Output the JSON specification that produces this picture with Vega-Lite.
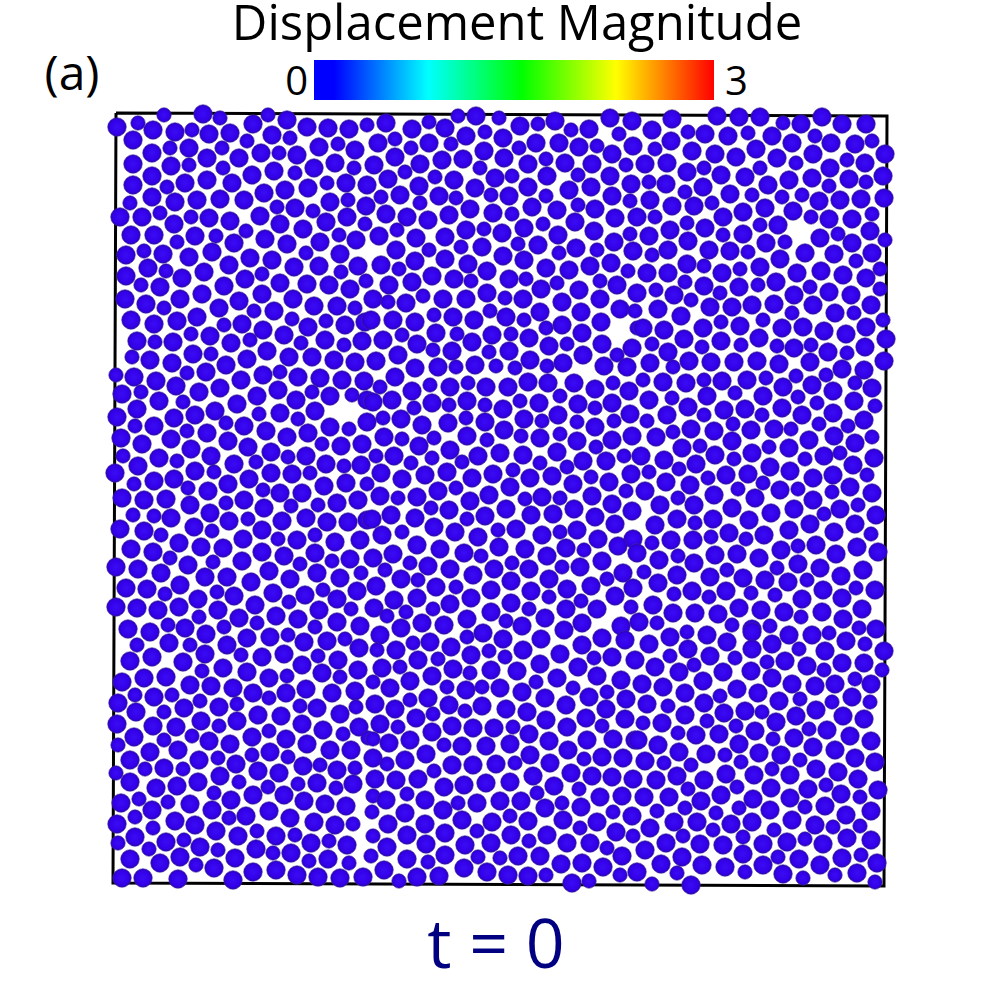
{"$schema":"https://vega.github.io/schema/vega-lite/v6.json","autosize":{"type":"fit","contains":"padding"},"width":1000,"height":1000,"padding":0,"background":"white","config":{"view":{"stroke":null}},"resolve":{"scale":{"x":"independent"}},
"datasets":{"frame":[{"x":116,"y":113,"o":0},{"x":887,"y":116,"o":1},{"x":884,"y":886,"o":2},{"x":113,"y":883,"o":3},{"x":116,"y":113,"o":4}],
"bar":[{"from":0,"to":3}],
"ticks":[{"v":0,"t":"0"},{"v":3,"t":"3"}],
"p":[
{"x":117,"y":127,"k":1},{"x":138,"y":123,"k":0},{"x":164,"y":115,"k":0},{"x":203,"y":114,"k":1},{"x":220,"y":118,"k":0},{"x":253,"y":124,"k":1},{"x":268,"y":115,"k":0},{"x":287,"y":120,"k":1},{"x":307,"y":127,"k":1},{"x":328,"y":128,"k":1},{"x":349,"y":129,"k":1},{"x":367,"y":125,"k":0},
{"x":133,"y":140,"k":1},{"x":153,"y":130,"k":1},{"x":175,"y":132,"k":1},{"x":192,"y":130,"k":0},{"x":209,"y":134,"k":1},{"x":230,"y":133,"k":1},{"x":247,"y":141,"k":0},{"x":272,"y":135,"k":1},{"x":290,"y":138,"k":0},{"x":319,"y":147,"k":1},{"x":338,"y":144,"k":0},{"x":355,"y":150,"k":1},
{"x":152,"y":153,"k":1},{"x":170,"y":148,"k":0},{"x":189,"y":148,"k":1},{"x":222,"y":148,"k":0},{"x":207,"y":158,"k":1},{"x":239,"y":158,"k":1},{"x":261,"y":153,"k":1},{"x":279,"y":153,"k":0},{"x":297,"y":155,"k":1},{"x":335,"y":163,"k":1},{"x":133,"y":164,"k":1},
{"x":171,"y":166,"k":1},{"x":189,"y":165,"k":0},{"x":223,"y":168,"k":0},{"x":252,"y":175,"k":1},{"x":274,"y":171,"k":1},{"x":295,"y":173,"k":0},{"x":314,"y":168,"k":1},{"x":354,"y":168,"k":0},{"x":152,"y":176,"k":1},{"x":133,"y":185,"k":1},{"x":167,"y":187,"k":0},{"x":185,"y":183,"k":1},{"x":207,"y":180,"k":1},{"x":232,"y":183,"k":1},{"x":264,"y":193,"k":1},{"x":285,"y":190,"k":1},{"x":308,"y":188,"k":1},{"x":327,"y":183,"k":0},{"x":346,"y":183,"k":1},{"x":367,"y":185,"k":1},
{"x":130,"y":203,"k":0},{"x":152,"y":197,"k":1},{"x":175,"y":202,"k":1},{"x":197,"y":200,"k":1},{"x":220,"y":199,"k":1},{"x":244,"y":200,"k":1},{"x":277,"y":207,"k":0},{"x":295,"y":208,"k":1},{"x":313,"y":211,"k":0},{"x":330,"y":202,"k":1},{"x":348,"y":200,"k":0},{"x":366,"y":206,"k":1},
{"x":120,"y":217,"k":1},{"x":142,"y":217,"k":1},{"x":160,"y":213,"k":0},{"x":174,"y":224,"k":1},{"x":191,"y":217,"k":0},{"x":209,"y":218,"k":1},{"x":230,"y":221,"k":1},{"x":260,"y":216,"k":1},{"x":280,"y":224,"k":1},{"x":303,"y":229,"k":1},{"x":326,"y":222,"k":1},{"x":347,"y":217,"k":1},{"x":365,"y":224,"k":0},
{"x":131,"y":235,"k":1},{"x":154,"y":235,"k":1},{"x":177,"y":242,"k":0},{"x":195,"y":236,"k":1},{"x":216,"y":236,"k":0},{"x":246,"y":231,"k":0},{"x":234,"y":243,"k":1},{"x":265,"y":239,"k":1},{"x":287,"y":244,"k":1},{"x":320,"y":242,"k":1},{"x":339,"y":235,"k":0},{"x":356,"y":240,"k":1},
{"x":126,"y":255,"k":1},{"x":144,"y":251,"k":0},{"x":163,"y":254,"k":1},{"x":189,"y":257,"k":1},{"x":212,"y":252,"k":1},{"x":250,"y":258,"k":1},{"x":272,"y":260,"k":1},{"x":306,"y":253,"k":0},{"x":340,"y":254,"k":1},{"x":229,"y":265,"k":1},{"x":294,"y":267,"k":1},{"x":319,"y":266,"k":1},{"x":358,"y":266,"k":1},
{"x":126,"y":276,"k":1},{"x":148,"y":268,"k":1},{"x":166,"y":271,"k":0},{"x":182,"y":278,"k":1},{"x":204,"y":272,"k":1},{"x":245,"y":279,"k":1},{"x":262,"y":274,"k":0},{"x":280,"y":283,"k":1},{"x":307,"y":284,"k":1},{"x":329,"y":285,"k":1},{"x":341,"y":272,"k":0},{"x":366,"y":281,"k":0},
{"x":141,"y":285,"k":0},{"x":160,"y":287,"k":1},{"x":224,"y":286,"k":1},{"x":125,"y":299,"k":1},{"x":146,"y":304,"k":1},{"x":164,"y":308,"k":0},{"x":180,"y":299,"k":1},{"x":202,"y":294,"k":1},{"x":239,"y":301,"k":1},{"x":262,"y":294,"k":1},{"x":293,"y":299,"k":1},{"x":314,"y":306,"k":1},{"x":337,"y":306,"k":1},{"x":350,"y":289,"k":1},{"x":355,"y":308,"k":0},
{"x":219,"y":308,"k":1},{"x":254,"y":311,"k":0},{"x":274,"y":311,"k":1},{"x":292,"y":319,"k":0},{"x":131,"y":320,"k":1},{"x":154,"y":324,"k":1},{"x":177,"y":321,"k":1},{"x":197,"y":317,"k":1},{"x":224,"y":325,"k":0},{"x":242,"y":324,"k":1},{"x":263,"y":330,"k":1},{"x":284,"y":335,"k":1},{"x":308,"y":327,"k":1},{"x":326,"y":321,"k":0},{"x":345,"y":325,"k":1},{"x":365,"y":322,"k":1},
{"x":137,"y":341,"k":1},{"x":155,"y":342,"k":0},{"x":173,"y":342,"k":1},{"x":191,"y":334,"k":0},{"x":210,"y":336,"k":1},{"x":231,"y":343,"k":1},{"x":250,"y":340,"k":0},{"x":301,"y":343,"k":0},{"x":325,"y":340,"k":1},{"x":344,"y":345,"k":0},{"x":362,"y":341,"k":1},
{"x":132,"y":357,"k":0},{"x":150,"y":360,"k":1},{"x":172,"y":363,"k":1},{"x":193,"y":354,"k":1},{"x":211,"y":354,"k":0},{"x":226,"y":365,"k":1},{"x":247,"y":359,"k":1},{"x":267,"y":351,"k":1},{"x":289,"y":357,"k":1},{"x":312,"y":357,"k":1},{"x":334,"y":360,"k":1},{"x":355,"y":362,"k":1},
{"x":386,"y":123,"k":1},{"x":412,"y":129,"k":1},{"x":429,"y":122,"k":0},{"x":445,"y":128,"k":1},{"x":458,"y":116,"k":0},{"x":476,"y":116,"k":1},{"x":499,"y":118,"k":0},{"x":520,"y":126,"k":1},{"x":538,"y":124,"k":0},{"x":555,"y":121,"k":1},{"x":571,"y":130,"k":0},{"x":589,"y":129,"k":1},{"x":610,"y":118,"k":1},{"x":632,"y":121,"k":1},{"x":619,"y":134,"k":0},
{"x":378,"y":143,"k":1},{"x":395,"y":139,"k":0},{"x":411,"y":148,"k":0},{"x":429,"y":143,"k":1},{"x":451,"y":144,"k":0},{"x":466,"y":136,"k":1},{"x":485,"y":132,"k":0},{"x":503,"y":138,"k":1},{"x":519,"y":148,"k":0},{"x":536,"y":143,"k":1},{"x":559,"y":143,"k":1},{"x":579,"y":147,"k":1},{"x":597,"y":146,"k":0},{"x":633,"y":146,"k":1},
{"x":395,"y":157,"k":1},{"x":374,"y":165,"k":1},{"x":420,"y":164,"k":1},{"x":442,"y":160,"k":1},{"x":463,"y":159,"k":1},{"x":484,"y":151,"k":1},{"x":504,"y":158,"k":1},{"x":528,"y":164,"k":1},{"x":546,"y":159,"k":0},{"x":565,"y":163,"k":1},{"x":592,"y":164,"k":1},{"x":612,"y":154,"k":1},{"x":626,"y":165,"k":0},
{"x":480,"y":168,"k":0},{"x":388,"y":179,"k":1},{"x":405,"y":172,"k":0},{"x":435,"y":177,"k":0},{"x":454,"y":180,"k":1},{"x":495,"y":178,"k":1},{"x":512,"y":176,"k":0},{"x":547,"y":176,"k":1},{"x":578,"y":175,"k":0},{"x":610,"y":176,"k":1},{"x":631,"y":184,"k":1},
{"x":419,"y":186,"k":1},{"x":475,"y":188,"k":1},{"x":528,"y":187,"k":1},{"x":569,"y":190,"k":1},{"x":591,"y":187,"k":1},{"x":381,"y":197,"k":0},{"x":400,"y":195,"k":1},{"x":439,"y":196,"k":1},{"x":456,"y":198,"k":0},{"x":491,"y":195,"k":0},{"x":509,"y":196,"k":1},{"x":546,"y":196,"k":0},{"x":612,"y":196,"k":1},{"x":630,"y":201,"k":0},
{"x":420,"y":203,"k":0},{"x":386,"y":214,"k":1},{"x":407,"y":217,"k":1},{"x":428,"y":220,"k":1},{"x":449,"y":215,"k":1},{"x":470,"y":209,"k":1},{"x":493,"y":213,"k":1},{"x":512,"y":214,"k":0},{"x":532,"y":207,"k":1},{"x":557,"y":210,"k":1},{"x":578,"y":205,"k":0},{"x":595,"y":209,"k":1},{"x":615,"y":218,"k":1},{"x":637,"y":217,"k":1},
{"x":397,"y":230,"k":0},{"x":575,"y":222,"k":1},{"x":543,"y":224,"k":0},{"x":466,"y":230,"k":1},{"x":484,"y":229,"k":0},{"x":502,"y":233,"k":1},{"x":524,"y":228,"k":1},{"x":379,"y":236,"k":1},{"x":416,"y":238,"k":1},{"x":445,"y":237,"k":1},{"x":558,"y":235,"k":1},{"x":594,"y":231,"k":1},{"x":630,"y":234,"k":0},
{"x":518,"y":244,"k":0},{"x":461,"y":247,"k":0},{"x":482,"y":247,"k":1},{"x":538,"y":245,"k":1},{"x":576,"y":248,"k":1},{"x":597,"y":250,"k":0},{"x":614,"y":242,"k":1},{"x":396,"y":250,"k":1},{"x":429,"y":250,"k":0},{"x":633,"y":251,"k":1},
{"x":503,"y":256,"k":1},{"x":559,"y":253,"k":0},{"x":381,"y":265,"k":1},{"x":415,"y":261,"k":1},{"x":445,"y":259,"k":1},{"x":468,"y":264,"k":1},{"x":524,"y":260,"k":1},{"x":399,"y":269,"k":0},{"x":546,"y":268,"k":1},{"x":569,"y":270,"k":1},{"x":590,"y":266,"k":1},{"x":611,"y":263,"k":1},{"x":628,"y":271,"k":0},
{"x":432,"y":276,"k":1},{"x":487,"y":271,"k":1},{"x":412,"y":282,"k":1},{"x":454,"y":279,"k":1},{"x":471,"y":281,"k":0},{"x":509,"y":279,"k":1},{"x":526,"y":279,"k":0},{"x":600,"y":281,"k":0},{"x":389,"y":285,"k":1},{"x":557,"y":283,"k":0},{"x":579,"y":290,"k":1},{"x":617,"y":285,"k":1},{"x":541,"y":289,"k":1},{"x":637,"y":293,"k":1},
{"x":423,"y":296,"k":0},{"x":487,"y":293,"k":1},{"x":443,"y":299,"k":1},{"x":466,"y":299,"k":1},{"x":505,"y":298,"k":0},{"x":523,"y":299,"k":1},{"x":373,"y":299,"k":1},{"x":388,"y":302,"k":0},{"x":406,"y":303,"k":1},{"x":562,"y":302,"k":1},{"x":600,"y":299,"k":1},{"x":620,"y":309,"k":1},
{"x":434,"y":315,"k":0},{"x":490,"y":311,"k":0},{"x":453,"y":317,"k":1},{"x":474,"y":320,"k":1},{"x":506,"y":317,"k":1},{"x":524,"y":320,"k":0},{"x":540,"y":312,"k":1},{"x":581,"y":312,"k":1},{"x":635,"y":311,"k":0},{"x":393,"y":320,"k":1},{"x":415,"y":322,"k":1},{"x":601,"y":322,"k":1},{"x":562,"y":325,"k":1},{"x":371,"y":320,"k":1},
{"x":546,"y":328,"k":0},{"x":436,"y":333,"k":1},{"x":457,"y":334,"k":0},{"x":492,"y":335,"k":1},{"x":511,"y":334,"k":0},{"x":529,"y":338,"k":1},{"x":582,"y":333,"k":1},{"x":402,"y":335,"k":0},{"x":383,"y":340,"k":1},{"x":417,"y":344,"k":1},{"x":472,"y":342,"k":1},{"x":637,"y":328,"k":0},
{"x":567,"y":344,"k":0},{"x":549,"y":346,"k":1},{"x":602,"y":344,"k":1},{"x":433,"y":350,"k":0},{"x":452,"y":351,"k":1},{"x":489,"y":352,"k":0},{"x":509,"y":351,"k":1},{"x":617,"y":355,"k":0},{"x":632,"y":348,"k":1},{"x":583,"y":355,"k":1},{"x":398,"y":355,"k":1},
{"x":376,"y":361,"k":1},{"x":415,"y":368,"k":1},{"x":438,"y":367,"k":1},{"x":456,"y":367,"k":0},{"x":475,"y":365,"k":1},{"x":496,"y":366,"k":0},{"x":515,"y":368,"k":0},{"x":530,"y":360,"k":1},{"x":547,"y":366,"k":0},{"x":563,"y":363,"k":1},{"x":604,"y":366,"k":1},{"x":627,"y":367,"k":1},
{"x":672,"y":119,"k":1},{"x":717,"y":116,"k":1},{"x":739,"y":117,"k":1},{"x":760,"y":117,"k":1},{"x":783,"y":123,"k":0},{"x":801,"y":124,"k":1},{"x":822,"y":117,"k":1},{"x":842,"y":124,"k":1},{"x":866,"y":124,"k":1},
{"x":652,"y":130,"k":1},{"x":688,"y":132,"k":0},{"x":705,"y":134,"k":1},{"x":728,"y":136,"k":1},{"x":748,"y":133,"k":0},{"x":772,"y":136,"k":1},{"x":792,"y":143,"k":1},{"x":815,"y":136,"k":0},{"x":831,"y":143,"k":1},{"x":855,"y":144,"k":1},{"x":872,"y":141,"k":0},
{"x":671,"y":141,"k":1},{"x":655,"y":149,"k":0},{"x":692,"y":151,"k":1},{"x":715,"y":154,"k":1},{"x":736,"y":157,"k":1},{"x":756,"y":149,"k":1},{"x":777,"y":158,"k":1},{"x":813,"y":154,"k":1},{"x":847,"y":160,"k":0},{"x":865,"y":163,"k":1},{"x":885,"y":154,"k":1},
{"x":645,"y":164,"k":1},{"x":667,"y":163,"k":1},{"x":796,"y":163,"k":0},{"x":830,"y":168,"k":1},{"x":687,"y":172,"k":1},{"x":704,"y":168,"k":0},{"x":721,"y":175,"k":1},{"x":760,"y":168,"k":0},{"x":745,"y":177,"k":1},{"x":789,"y":180,"k":1},{"x":812,"y":178,"k":1},{"x":849,"y":179,"k":1},{"x":866,"y":182,"k":0},{"x":883,"y":176,"k":1},
{"x":649,"y":182,"k":0},{"x":666,"y":184,"k":1},{"x":768,"y":185,"k":1},{"x":829,"y":186,"k":0},{"x":703,"y":187,"k":1},{"x":685,"y":192,"k":0},{"x":730,"y":194,"k":1},{"x":752,"y":195,"k":0},{"x":782,"y":197,"k":0},{"x":802,"y":195,"k":0},{"x":819,"y":201,"k":1},{"x":840,"y":200,"k":1},{"x":861,"y":199,"k":1},{"x":884,"y":198,"k":1},
{"x":650,"y":200,"k":1},{"x":672,"y":206,"k":1},{"x":694,"y":206,"k":1},{"x":712,"y":203,"k":0},{"x":743,"y":212,"k":1},{"x":765,"y":208,"k":1},{"x":793,"y":211,"k":1},{"x":811,"y":217,"k":0},{"x":829,"y":219,"k":1},{"x":852,"y":219,"k":1},{"x":872,"y":214,"k":0},
{"x":655,"y":217,"k":0},{"x":723,"y":217,"k":1},{"x":687,"y":223,"k":0},{"x":705,"y":228,"k":1},{"x":760,"y":225,"k":0},{"x":778,"y":225,"k":1},{"x":670,"y":230,"k":1},{"x":870,"y":231,"k":1},{"x":649,"y":236,"k":1},{"x":723,"y":235,"k":0},{"x":743,"y":234,"k":1},{"x":820,"y":238,"k":1},{"x":838,"y":234,"k":0},{"x":885,"y":240,"k":0},
{"x":688,"y":241,"k":1},{"x":766,"y":243,"k":1},{"x":785,"y":242,"k":0},{"x":668,"y":250,"k":1},{"x":709,"y":250,"k":1},{"x":730,"y":251,"k":1},{"x":748,"y":252,"k":0},{"x":852,"y":243,"k":1},{"x":805,"y":253,"k":1},{"x":834,"y":254,"k":1},{"x":652,"y":255,"k":0},{"x":872,"y":253,"k":1},
{"x":780,"y":259,"k":1},{"x":687,"y":264,"k":1},{"x":704,"y":266,"k":0},{"x":856,"y":261,"k":0},{"x":722,"y":273,"k":1},{"x":740,"y":269,"k":0},{"x":760,"y":267,"k":1},{"x":647,"y":273,"k":1},{"x":668,"y":273,"k":1},{"x":797,"y":273,"k":1},{"x":821,"y":271,"k":1},{"x":843,"y":275,"k":1},{"x":880,"y":269,"k":0},{"x":866,"y":278,"k":1},
{"x":685,"y":282,"k":0},{"x":704,"y":286,"k":1},{"x":776,"y":282,"k":1},{"x":739,"y":287,"k":1},{"x":758,"y":285,"k":0},{"x":810,"y":287,"k":0},{"x":880,"y":289,"k":0},{"x":720,"y":293,"k":0},{"x":656,"y":290,"k":0},{"x":674,"y":295,"k":1},{"x":829,"y":292,"k":1},{"x":851,"y":295,"k":1},{"x":794,"y":295,"k":1},
{"x":691,"y":300,"k":0},{"x":658,"y":309,"k":1},{"x":710,"y":307,"k":1},{"x":732,"y":307,"k":1},{"x":752,"y":305,"k":1},{"x":774,"y":304,"k":1},{"x":813,"y":305,"k":1},{"x":871,"y":305,"k":1},{"x":792,"y":313,"k":0},{"x":835,"y":313,"k":1},{"x":854,"y":313,"k":0},{"x":681,"y":316,"k":1},
{"x":763,"y":320,"k":0},{"x":883,"y":320,"k":0},{"x":721,"y":322,"k":0},{"x":703,"y":328,"k":1},{"x":740,"y":326,"k":1},{"x":782,"y":328,"k":1},{"x":803,"y":327,"k":1},{"x":824,"y":331,"k":1},{"x":846,"y":334,"k":1},{"x":866,"y":327,"k":1},{"x":664,"y":330,"k":1},{"x":643,"y":328,"k":1},
{"x":684,"y":339,"k":1},{"x":721,"y":341,"k":1},{"x":759,"y":338,"k":1},{"x":886,"y":339,"k":1},{"x":652,"y":344,"k":0},{"x":702,"y":347,"k":0},{"x":741,"y":345,"k":0},{"x":777,"y":346,"k":0},{"x":794,"y":348,"k":1},{"x":811,"y":345,"k":0},{"x":828,"y":352,"k":1},{"x":847,"y":353,"k":0},{"x":865,"y":347,"k":1},{"x":668,"y":352,"k":1},
{"x":689,"y":361,"k":1},{"x":711,"y":362,"k":1},{"x":734,"y":362,"k":1},{"x":757,"y":361,"k":1},{"x":779,"y":364,"k":1},{"x":884,"y":361,"k":1},{"x":650,"y":363,"k":1},{"x":673,"y":367,"k":0},{"x":810,"y":362,"k":1},{"x":842,"y":369,"k":1},{"x":864,"y":370,"k":1},
{"x":116,"y":375,"k":0},{"x":134,"y":377,"k":1},{"x":156,"y":381,"k":1},{"x":187,"y":373,"k":0},{"x":206,"y":372,"k":1},{"x":241,"y":380,"k":1},{"x":263,"y":375,"k":1},{"x":280,"y":372,"k":0},{"x":298,"y":377,"k":1},{"x":320,"y":378,"k":1},{"x":342,"y":380,"k":1},{"x":364,"y":381,"k":1},
{"x":122,"y":394,"k":1},{"x":141,"y":392,"k":0},{"x":176,"y":386,"k":1},{"x":199,"y":392,"k":1},{"x":220,"y":388,"k":1},{"x":159,"y":401,"k":1},{"x":183,"y":402,"k":0},{"x":257,"y":396,"k":1},{"x":278,"y":390,"k":1},{"x":312,"y":392,"k":0},{"x":296,"y":400,"k":1},{"x":330,"y":396,"k":1},{"x":352,"y":395,"k":0},{"x":367,"y":400,"k":1},
{"x":137,"y":409,"k":1},{"x":117,"y":417,"k":1},{"x":174,"y":418,"k":1},{"x":195,"y":415,"k":1},{"x":215,"y":411,"k":1},{"x":237,"y":404,"k":1},{"x":259,"y":414,"k":0},{"x":280,"y":413,"k":1},{"x":315,"y":411,"k":1},{"x":298,"y":419,"k":0},{"x":367,"y":422,"k":1},
{"x":135,"y":426,"k":0},{"x":154,"y":426,"k":1},{"x":226,"y":423,"k":0},{"x":244,"y":426,"k":1},{"x":330,"y":427,"k":1},{"x":349,"y":429,"k":0},{"x":187,"y":431,"k":0},{"x":207,"y":433,"k":1},{"x":266,"y":431,"k":1},{"x":308,"y":433,"k":1},{"x":121,"y":438,"k":1},{"x":171,"y":439,"k":1},{"x":228,"y":441,"k":1},{"x":287,"y":437,"k":1},
{"x":142,"y":444,"k":1},{"x":322,"y":444,"k":0},{"x":248,"y":447,"k":1},{"x":341,"y":446,"k":1},{"x":362,"y":444,"k":1},{"x":191,"y":449,"k":1},{"x":271,"y":452,"k":1},{"x":123,"y":456,"k":0},{"x":159,"y":458,"k":1},{"x":211,"y":456,"k":1},{"x":288,"y":457,"k":0},{"x":306,"y":456,"k":1},{"x":177,"y":461,"k":0},{"x":234,"y":464,"k":1},{"x":256,"y":462,"k":0},{"x":326,"y":464,"k":1},{"x":344,"y":466,"k":0},{"x":361,"y":465,"k":1},
{"x":138,"y":466,"k":1},{"x":115,"y":473,"k":1},{"x":195,"y":471,"k":1},{"x":214,"y":472,"k":0},{"x":271,"y":473,"k":1},{"x":292,"y":474,"k":1},{"x":310,"y":473,"k":0},{"x":174,"y":479,"k":1},{"x":249,"y":479,"k":1},{"x":134,"y":484,"k":0},{"x":154,"y":481,"k":1},{"x":188,"y":488,"k":0},{"x":228,"y":484,"k":1},{"x":324,"y":486,"k":1},{"x":346,"y":483,"k":1},{"x":367,"y":484,"k":0},
{"x":208,"y":491,"k":1},{"x":263,"y":490,"k":0},{"x":280,"y":493,"k":1},{"x":302,"y":493,"k":1},{"x":122,"y":498,"k":1},{"x":144,"y":500,"k":1},{"x":166,"y":499,"k":1},{"x":244,"y":500,"k":1},{"x":226,"y":503,"k":0},{"x":190,"y":505,"k":1},{"x":264,"y":508,"k":1},{"x":291,"y":506,"k":0},{"x":318,"y":505,"k":0},{"x":337,"y":503,"k":1},{"x":358,"y":500,"k":1},
{"x":210,"y":513,"k":1},{"x":133,"y":515,"k":0},{"x":154,"y":516,"k":0},{"x":171,"y":518,"k":1},{"x":229,"y":521,"k":1},{"x":248,"y":519,"k":0},{"x":306,"y":518,"k":1},{"x":282,"y":521,"k":1},{"x":327,"y":522,"k":1},{"x":348,"y":522,"k":1},{"x":367,"y":520,"k":1},
{"x":120,"y":529,"k":1},{"x":144,"y":531,"k":1},{"x":194,"y":527,"k":1},{"x":212,"y":531,"k":0},{"x":262,"y":530,"k":1},{"x":161,"y":535,"k":0},{"x":315,"y":535,"k":0},{"x":243,"y":539,"k":1},{"x":179,"y":543,"k":1},{"x":278,"y":539,"k":0},{"x":297,"y":540,"k":1},{"x":335,"y":542,"k":1},{"x":360,"y":540,"k":1},
{"x":131,"y":549,"k":1},{"x":153,"y":552,"k":1},{"x":201,"y":547,"k":1},{"x":223,"y":548,"k":1},{"x":262,"y":552,"k":1},{"x":284,"y":556,"k":1},{"x":315,"y":553,"k":1},{"x":170,"y":558,"k":0},{"x":350,"y":559,"k":1},{"x":332,"y":561,"k":0},{"x":213,"y":562,"k":0},{"x":242,"y":561,"k":1},{"x":300,"y":564,"k":0},
{"x":116,"y":567,"k":1},{"x":138,"y":569,"k":1},{"x":188,"y":565,"k":1},{"x":161,"y":573,"k":1},{"x":269,"y":571,"k":1},{"x":317,"y":573,"k":1},{"x":361,"y":573,"k":0},{"x":205,"y":577,"k":1},{"x":227,"y":577,"k":1},{"x":290,"y":579,"k":1},{"x":340,"y":578,"k":1},{"x":251,"y":582,"k":1},
{"x":126,"y":588,"k":1},{"x":147,"y":589,"k":1},{"x":180,"y":585,"k":1},{"x":165,"y":594,"k":0},{"x":217,"y":592,"k":0},{"x":234,"y":596,"k":1},{"x":273,"y":593,"k":1},{"x":305,"y":595,"k":1},{"x":323,"y":590,"k":0},{"x":357,"y":591,"k":1},{"x":337,"y":599,"k":1},{"x":289,"y":602,"k":0},
{"x":198,"y":599,"k":1},{"x":179,"y":607,"k":1},{"x":116,"y":607,"k":1},{"x":137,"y":608,"k":1},{"x":158,"y":610,"k":1},{"x":218,"y":610,"k":1},{"x":255,"y":605,"k":1},{"x":319,"y":610,"k":1},{"x":351,"y":609,"k":0},{"x":199,"y":617,"k":0},{"x":239,"y":618,"k":1},{"x":276,"y":616,"k":1},{"x":298,"y":619,"k":1},{"x":257,"y":623,"k":0},{"x":168,"y":625,"k":0},{"x":128,"y":629,"k":1},{"x":185,"y":628,"k":1},{"x":224,"y":627,"k":0},{"x":315,"y":627,"k":0},{"x":337,"y":622,"k":1},{"x":360,"y":626,"k":1},
{"x":395,"y":377,"k":1},{"x":380,"y":387,"k":0},{"x":412,"y":391,"k":1},{"x":430,"y":385,"k":0},{"x":450,"y":387,"k":1},{"x":468,"y":383,"k":0},{"x":486,"y":387,"k":1},{"x":508,"y":387,"k":1},{"x":528,"y":382,"k":1},{"x":548,"y":383,"k":1},{"x":574,"y":383,"k":1},{"x":595,"y":389,"k":1},{"x":613,"y":383,"k":0},{"x":629,"y":391,"k":1},
{"x":392,"y":400,"k":1},{"x":560,"y":396,"k":0},{"x":373,"y":402,"k":1},{"x":432,"y":403,"k":1},{"x":449,"y":405,"k":0},{"x":467,"y":401,"k":1},{"x":485,"y":405,"k":0},{"x":503,"y":409,"k":1},{"x":520,"y":401,"k":0},{"x":539,"y":403,"k":1},{"x":578,"y":404,"k":1},{"x":595,"y":408,"k":0},{"x":612,"y":403,"k":1},{"x":414,"y":408,"k":0},
{"x":383,"y":418,"k":0},{"x":401,"y":419,"k":1},{"x":422,"y":425,"k":1},{"x":448,"y":423,"k":1},{"x":466,"y":418,"k":0},{"x":485,"y":422,"k":1},{"x":524,"y":419,"k":1},{"x":542,"y":421,"k":0},{"x":558,"y":415,"k":1},{"x":577,"y":422,"k":0},{"x":595,"y":427,"k":1},{"x":614,"y":421,"k":0},{"x":630,"y":414,"k":1},
{"x":504,"y":430,"k":1},{"x":384,"y":437,"k":1},{"x":402,"y":439,"k":0},{"x":434,"y":438,"k":0},{"x":467,"y":436,"k":1},{"x":487,"y":440,"k":0},{"x":521,"y":436,"k":0},{"x":540,"y":438,"k":1},{"x":560,"y":434,"k":0},{"x":577,"y":441,"k":1},{"x":612,"y":440,"k":1},{"x":632,"y":436,"k":1},
{"x":419,"y":446,"k":1},{"x":450,"y":450,"k":1},{"x":500,"y":453,"k":1},{"x":523,"y":455,"k":1},{"x":557,"y":452,"k":1},{"x":596,"y":447,"k":0},{"x":376,"y":456,"k":0},{"x":394,"y":456,"k":1},{"x":432,"y":458,"k":0},{"x":478,"y":456,"k":1},{"x":540,"y":463,"k":0},{"x":624,"y":456,"k":0},{"x":583,"y":461,"k":1},{"x":606,"y":461,"k":1},{"x":411,"y":463,"k":0},{"x":462,"y":462,"k":0},
{"x":567,"y":467,"k":0},{"x":513,"y":470,"k":0},{"x":381,"y":473,"k":1},{"x":447,"y":472,"k":1},{"x":402,"y":479,"k":1},{"x":425,"y":475,"k":1},{"x":472,"y":478,"k":1},{"x":493,"y":474,"k":1},{"x":530,"y":478,"k":1},{"x":552,"y":476,"k":1},{"x":591,"y":477,"k":0},{"x":573,"y":484,"k":1},{"x":609,"y":482,"k":1},{"x":631,"y":474,"k":1},
{"x":510,"y":487,"k":1},{"x":438,"y":491,"k":1},{"x":456,"y":488,"k":0},{"x":380,"y":496,"k":1},{"x":398,"y":498,"k":0},{"x":417,"y":497,"k":1},{"x":489,"y":495,"k":1},{"x":525,"y":499,"k":0},{"x":542,"y":497,"k":1},{"x":560,"y":498,"k":0},{"x":592,"y":496,"k":1},{"x":626,"y":491,"k":0},{"x":470,"y":501,"k":1},
{"x":612,"y":504,"k":1},{"x":431,"y":508,"k":0},{"x":574,"y":509,"k":1},{"x":506,"y":509,"k":1},{"x":632,"y":511,"k":1},{"x":449,"y":510,"k":1},{"x":391,"y":515,"k":1},{"x":415,"y":518,"k":1},{"x":531,"y":515,"k":1},{"x":553,"y":514,"k":1},{"x":595,"y":517,"k":1},{"x":467,"y":519,"k":0},{"x":485,"y":516,"k":1},{"x":372,"y":519,"k":1},
{"x":615,"y":524,"k":1},{"x":516,"y":529,"k":1},{"x":434,"y":527,"k":1},{"x":577,"y":530,"k":1},{"x":498,"y":530,"k":0},{"x":455,"y":532,"k":1},{"x":382,"y":535,"k":1},{"x":402,"y":532,"k":0},{"x":542,"y":535,"k":1},{"x":560,"y":532,"k":0},{"x":478,"y":537,"k":1},{"x":598,"y":539,"k":1},{"x":633,"y":539,"k":1},
{"x":417,"y":545,"k":1},{"x":440,"y":549,"k":1},{"x":499,"y":547,"k":1},{"x":525,"y":549,"k":1},{"x":566,"y":548,"k":1},{"x":618,"y":546,"k":1},{"x":584,"y":550,"k":0},{"x":464,"y":553,"k":1},{"x":481,"y":556,"k":0},{"x":393,"y":554,"k":1},{"x":547,"y":556,"k":1},{"x":373,"y":558,"k":1},
{"x":410,"y":563,"k":0},{"x":602,"y":561,"k":1},{"x":428,"y":566,"k":1},{"x":512,"y":563,"k":0},{"x":562,"y":567,"k":0},{"x":494,"y":569,"k":1},{"x":385,"y":570,"k":0},{"x":450,"y":569,"k":1},{"x":529,"y":569,"k":1},{"x":580,"y":567,"k":1},{"x":473,"y":575,"k":1},{"x":623,"y":573,"k":1},{"x":401,"y":579,"k":1},{"x":549,"y":579,"k":1},{"x":418,"y":580,"k":0},{"x":511,"y":581,"k":1},{"x":607,"y":579,"k":0},
{"x":376,"y":586,"k":1},{"x":436,"y":587,"k":1},{"x":456,"y":587,"k":0},{"x":491,"y":590,"k":1},{"x":531,"y":591,"k":1},{"x":567,"y":589,"k":1},{"x":591,"y":586,"k":1},{"x":615,"y":596,"k":1},{"x":633,"y":588,"k":1},
{"x":394,"y":600,"k":1},{"x":417,"y":598,"k":1},{"x":471,"y":598,"k":1},{"x":450,"y":604,"k":1},{"x":549,"y":597,"k":0},{"x":511,"y":603,"k":1},{"x":581,"y":601,"k":0},{"x":374,"y":608,"k":1},{"x":491,"y":612,"k":1},{"x":597,"y":609,"k":1},{"x":631,"y":607,"k":0},{"x":529,"y":609,"k":0},{"x":566,"y":609,"k":1},{"x":406,"y":612,"k":0},{"x":433,"y":609,"k":0},
{"x":387,"y":616,"k":0},{"x":467,"y":619,"k":1},{"x":422,"y":623,"k":1},{"x":545,"y":618,"k":1},{"x":506,"y":621,"k":0},{"x":444,"y":625,"k":1},{"x":582,"y":623,"k":1},{"x":621,"y":626,"k":1},{"x":522,"y":626,"k":1},{"x":401,"y":628,"k":1},
{"x":643,"y":380,"k":0},{"x":663,"y":382,"k":1},{"x":686,"y":383,"k":1},{"x":704,"y":380,"k":0},{"x":722,"y":381,"k":1},{"x":747,"y":380,"k":1},{"x":766,"y":378,"k":0},{"x":783,"y":387,"k":1},{"x":796,"y":376,"k":0},{"x":812,"y":385,"k":1},{"x":826,"y":375,"k":0},{"x":833,"y":391,"k":1},{"x":855,"y":383,"k":0},{"x":872,"y":388,"k":1},
{"x":649,"y":400,"k":1},{"x":672,"y":398,"k":0},{"x":707,"y":396,"k":1},{"x":735,"y":393,"k":0},{"x":763,"y":396,"k":1},{"x":798,"y":397,"k":0},{"x":817,"y":403,"k":0},{"x":854,"y":401,"k":1},{"x":875,"y":406,"k":0},
{"x":688,"y":407,"k":1},{"x":724,"y":410,"k":1},{"x":745,"y":409,"k":1},{"x":782,"y":408,"k":1},{"x":667,"y":415,"k":1},{"x":704,"y":415,"k":0},{"x":762,"y":415,"k":0},{"x":802,"y":415,"k":1},{"x":833,"y":413,"k":1},{"x":864,"y":420,"k":1},
{"x":647,"y":421,"k":0},{"x":733,"y":424,"k":0},{"x":819,"y":424,"k":0},{"x":848,"y":426,"k":0},{"x":691,"y":429,"k":1},{"x":714,"y":431,"k":1},{"x":751,"y":430,"k":1},{"x":774,"y":429,"k":1},{"x":791,"y":429,"k":0},{"x":656,"y":437,"k":1},{"x":673,"y":432,"k":0},{"x":834,"y":436,"k":1},{"x":809,"y":440,"k":1},{"x":872,"y":437,"k":0},
{"x":732,"y":441,"k":1},{"x":700,"y":446,"k":0},{"x":769,"y":447,"k":0},{"x":682,"y":448,"k":1},{"x":855,"y":443,"k":1},{"x":789,"y":448,"k":1},{"x":641,"y":456,"k":1},{"x":840,"y":453,"k":0},{"x":752,"y":453,"k":1},{"x":715,"y":455,"k":1},{"x":824,"y":456,"k":1},{"x":805,"y":459,"k":0},{"x":874,"y":458,"k":1},
{"x":664,"y":460,"k":1},{"x":734,"y":459,"k":0},{"x":696,"y":464,"k":1},{"x":770,"y":467,"k":1},{"x":853,"y":465,"k":1},{"x":679,"y":469,"k":0},{"x":790,"y":471,"k":1},{"x":649,"y":472,"k":0},{"x":748,"y":474,"k":1},{"x":726,"y":475,"k":1},{"x":833,"y":475,"k":1},{"x":708,"y":478,"k":0},{"x":867,"y":475,"k":0},{"x":813,"y":478,"k":1},
{"x":763,"y":483,"k":0},{"x":666,"y":482,"k":1},{"x":690,"y":485,"k":1},{"x":850,"y":487,"k":1},{"x":798,"y":489,"k":0},{"x":645,"y":491,"k":1},{"x":738,"y":489,"k":0},{"x":780,"y":490,"k":1},{"x":832,"y":492,"k":0},{"x":714,"y":495,"k":1},{"x":872,"y":493,"k":1},{"x":678,"y":498,"k":0},{"x":755,"y":498,"k":1},{"x":813,"y":500,"k":1},
{"x":660,"y":505,"k":1},{"x":694,"y":505,"k":1},{"x":858,"y":505,"k":0},{"x":732,"y":508,"k":1},{"x":840,"y":509,"k":1},{"x":794,"y":509,"k":1},{"x":771,"y":513,"k":1},{"x":824,"y":514,"k":0},{"x":876,"y":515,"k":1},{"x":677,"y":519,"k":1},{"x":713,"y":519,"k":1},{"x":749,"y":520,"k":1},{"x":810,"y":524,"k":1},{"x":855,"y":524,"k":1},
{"x":695,"y":523,"k":0},{"x":655,"y":525,"k":1},{"x":789,"y":530,"k":1},{"x":729,"y":533,"k":1},{"x":834,"y":532,"k":1},{"x":711,"y":537,"k":0},{"x":871,"y":534,"k":0},{"x":764,"y":535,"k":1},{"x":671,"y":540,"k":1},{"x":693,"y":540,"k":1},{"x":746,"y":539,"k":0},{"x":652,"y":543,"k":0},
{"x":781,"y":550,"k":1},{"x":798,"y":546,"k":0},{"x":816,"y":545,"k":1},{"x":857,"y":547,"k":1},{"x":637,"y":553,"k":1},{"x":715,"y":555,"k":1},{"x":737,"y":554,"k":1},{"x":678,"y":556,"k":0},{"x":836,"y":554,"k":1},{"x":878,"y":552,"k":1},{"x":659,"y":560,"k":1},{"x":759,"y":558,"k":1},{"x":694,"y":563,"k":1},{"x":798,"y":564,"k":1},{"x":777,"y":568,"k":0},{"x":820,"y":568,"k":1},{"x":727,"y":570,"k":0},{"x":863,"y":570,"k":1},
{"x":644,"y":572,"k":0},{"x":677,"y":575,"k":1},{"x":710,"y":577,"k":1},{"x":743,"y":578,"k":1},{"x":841,"y":576,"k":1},{"x":765,"y":580,"k":1},{"x":788,"y":582,"k":1},{"x":807,"y":580,"k":0},{"x":658,"y":583,"k":1},{"x":692,"y":591,"k":1},{"x":726,"y":591,"k":1},{"x":823,"y":590,"k":1},{"x":856,"y":588,"k":0},{"x":875,"y":590,"k":1},{"x":674,"y":594,"k":0},{"x":751,"y":593,"k":0},{"x":775,"y":595,"k":0},{"x":709,"y":597,"k":0},{"x":802,"y":599,"k":1},{"x":842,"y":598,"k":1},
{"x":653,"y":605,"k":1},{"x":739,"y":608,"k":1},{"x":761,"y":610,"k":1},{"x":784,"y":612,"k":1},{"x":862,"y":609,"k":1},{"x":673,"y":613,"k":1},{"x":695,"y":613,"k":1},{"x":718,"y":614,"k":1},{"x":822,"y":612,"k":1},{"x":801,"y":617,"k":0},{"x":639,"y":622,"k":1},{"x":843,"y":619,"k":1},{"x":657,"y":623,"k":0},{"x":732,"y":625,"k":0},{"x":770,"y":626,"k":0},{"x":752,"y":629,"k":1},{"x":859,"y":628,"k":0},{"x":876,"y":629,"k":1},
{"x":150,"y":632,"k":1},{"x":206,"y":634,"k":1},{"x":247,"y":638,"k":1},{"x":270,"y":637,"k":1},{"x":288,"y":635,"k":0},{"x":304,"y":642,"k":1},{"x":327,"y":641,"k":1},{"x":345,"y":639,"k":0},{"x":359,"y":648,"k":1},{"x":137,"y":645,"k":0},{"x":169,"y":643,"k":1},{"x":190,"y":645,"k":0},{"x":227,"y":645,"k":1},{"x":205,"y":654,"k":1},{"x":152,"y":657,"k":1},{"x":241,"y":655,"k":0},{"x":262,"y":657,"k":1},{"x":284,"y":654,"k":1},{"x":318,"y":656,"k":0},{"x":302,"y":665,"k":1},{"x":338,"y":660,"k":1},
{"x":130,"y":661,"k":1},{"x":183,"y":662,"k":1},{"x":223,"y":668,"k":1},{"x":202,"y":671,"k":0},{"x":247,"y":672,"k":1},{"x":269,"y":678,"k":1},{"x":322,"y":673,"k":1},{"x":287,"y":676,"k":0},{"x":358,"y":670,"k":1},{"x":340,"y":677,"k":0},{"x":122,"y":682,"k":1},{"x":144,"y":678,"k":1},{"x":166,"y":677,"k":1},{"x":190,"y":685,"k":1},{"x":211,"y":686,"k":1},{"x":233,"y":688,"k":1},{"x":306,"y":689,"k":1},{"x":253,"y":693,"k":1},{"x":286,"y":693,"k":1},{"x":332,"y":693,"k":1},{"x":355,"y":691,"k":1},
{"x":135,"y":695,"k":0},{"x":154,"y":697,"k":1},{"x":172,"y":695,"k":0},{"x":118,"y":703,"k":1},{"x":200,"y":701,"k":0},{"x":269,"y":698,"k":0},{"x":237,"y":704,"k":0},{"x":184,"y":708,"k":1},{"x":219,"y":707,"k":1},{"x":300,"y":706,"k":0},{"x":317,"y":708,"k":1},{"x":356,"y":707,"k":0},{"x":136,"y":712,"k":1},{"x":164,"y":712,"k":0},{"x":258,"y":715,"k":1},{"x":281,"y":716,"k":1},{"x":340,"y":714,"k":1},{"x":201,"y":721,"k":1},{"x":117,"y":724,"k":1},{"x":237,"y":721,"k":1},{"x":153,"y":726,"k":1},{"x":219,"y":726,"k":0},{"x":176,"y":727,"k":1},{"x":302,"y":724,"k":1},{"x":359,"y":727,"k":1},
{"x":269,"y":731,"k":0},{"x":323,"y":730,"k":1},{"x":134,"y":737,"k":1},{"x":192,"y":736,"k":0},{"x":164,"y":740,"k":0},{"x":252,"y":737,"k":1},{"x":286,"y":739,"k":1},{"x":209,"y":741,"k":1},{"x":343,"y":734,"k":0},{"x":118,"y":745,"k":0},{"x":230,"y":744,"k":1},{"x":307,"y":744,"k":1},{"x":330,"y":750,"k":1},{"x":351,"y":750,"k":1},{"x":368,"y":738,"k":0},
{"x":178,"y":750,"k":1},{"x":150,"y":752,"k":1},{"x":270,"y":752,"k":1},{"x":218,"y":758,"k":0},{"x":252,"y":755,"k":0},{"x":288,"y":757,"k":0},{"x":130,"y":760,"k":1},{"x":199,"y":760,"k":1},{"x":236,"y":764,"k":1},{"x":303,"y":766,"k":1},{"x":320,"y":765,"k":0},{"x":337,"y":770,"k":1},{"x":355,"y":768,"k":0},{"x":164,"y":768,"k":1},{"x":145,"y":769,"k":0},{"x":183,"y":769,"k":0},{"x":116,"y":773,"k":0},{"x":258,"y":771,"k":1},{"x":279,"y":773,"k":1},{"x":220,"y":776,"k":1},
{"x":130,"y":782,"k":1},{"x":198,"y":782,"k":1},{"x":239,"y":782,"k":0},{"x":298,"y":784,"k":0},{"x":317,"y":783,"k":1},{"x":336,"y":788,"k":0},{"x":353,"y":784,"k":1},{"x":156,"y":788,"k":1},{"x":177,"y":786,"k":1},{"x":268,"y":787,"k":0},{"x":214,"y":793,"k":0},{"x":253,"y":795,"k":1},{"x":284,"y":795,"k":1},{"x":304,"y":801,"k":1},{"x":231,"y":800,"k":1},{"x":121,"y":803,"k":1},{"x":139,"y":799,"k":0},{"x":168,"y":802,"k":0},{"x":190,"y":804,"k":1},{"x":325,"y":804,"k":1},{"x":346,"y":806,"k":1},
{"x":152,"y":810,"k":1},{"x":212,"y":810,"k":1},{"x":269,"y":811,"k":1},{"x":246,"y":816,"k":1},{"x":135,"y":817,"k":0},{"x":290,"y":818,"k":1},{"x":229,"y":818,"k":0},{"x":117,"y":824,"k":1},{"x":175,"y":821,"k":1},{"x":314,"y":822,"k":1},{"x":195,"y":825,"k":1},{"x":335,"y":825,"k":1},{"x":353,"y":824,"k":0},{"x":153,"y":828,"k":0},{"x":257,"y":831,"k":0},{"x":216,"y":831,"k":1},
{"x":135,"y":837,"k":1},{"x":238,"y":836,"k":1},{"x":276,"y":836,"k":1},{"x":295,"y":835,"k":0},{"x":311,"y":843,"k":1},{"x":329,"y":841,"k":0},{"x":118,"y":843,"k":0},{"x":166,"y":842,"k":1},{"x":184,"y":840,"k":0},{"x":347,"y":845,"k":1},{"x":200,"y":847,"k":1},{"x":149,"y":849,"k":0},{"x":218,"y":850,"k":0},{"x":256,"y":849,"k":1},{"x":273,"y":853,"k":0},{"x":291,"y":853,"k":1},
{"x":180,"y":857,"k":1},{"x":130,"y":859,"k":1},{"x":160,"y":863,"k":1},{"x":235,"y":858,"k":1},{"x":328,"y":859,"k":1},{"x":309,"y":861,"k":0},{"x":349,"y":863,"k":0},{"x":196,"y":865,"k":0},{"x":214,"y":868,"k":1},{"x":253,"y":872,"k":1},{"x":276,"y":870,"k":1},{"x":122,"y":878,"k":1},{"x":143,"y":878,"k":1},{"x":178,"y":879,"k":1},{"x":233,"y":880,"k":1},{"x":297,"y":875,"k":1},{"x":318,"y":877,"k":1},{"x":340,"y":878,"k":1},{"x":363,"y":877,"k":1},
{"x":380,"y":635,"k":1},{"x":467,"y":637,"k":0},{"x":483,"y":633,"k":1},{"x":503,"y":639,"k":1},{"x":541,"y":639,"k":1},{"x":564,"y":630,"k":1},{"x":602,"y":638,"k":1},{"x":625,"y":640,"k":1},{"x":582,"y":645,"k":1},{"x":413,"y":643,"k":0},{"x":430,"y":642,"k":1},{"x":377,"y":650,"k":0},{"x":396,"y":650,"k":1},{"x":451,"y":647,"k":1},{"x":471,"y":655,"k":1},{"x":489,"y":651,"k":0},{"x":505,"y":657,"k":0},{"x":523,"y":650,"k":1},{"x":560,"y":654,"k":1},{"x":594,"y":658,"k":0},{"x":612,"y":657,"k":1},{"x":635,"y":660,"k":1},
{"x":418,"y":660,"k":1},{"x":438,"y":659,"k":0},{"x":382,"y":668,"k":1},{"x":400,"y":667,"k":0},{"x":453,"y":669,"k":1},{"x":491,"y":670,"k":1},{"x":540,"y":664,"k":1},{"x":578,"y":667,"k":1},{"x":470,"y":673,"k":0},{"x":517,"y":671,"k":1},{"x":557,"y":678,"k":1},{"x":597,"y":676,"k":1},{"x":621,"y":680,"k":1},{"x":432,"y":676,"k":1},{"x":410,"y":681,"k":1},{"x":373,"y":682,"k":0},{"x":390,"y":688,"k":1},{"x":447,"y":687,"k":0},{"x":466,"y":690,"k":1},{"x":482,"y":687,"k":0},{"x":500,"y":688,"k":1},{"x":522,"y":692,"k":1},{"x":536,"y":682,"k":0},{"x":573,"y":688,"k":0},{"x":607,"y":692,"k":0},
{"x":428,"y":698,"k":1},{"x":410,"y":700,"k":0},{"x":545,"y":698,"k":1},{"x":589,"y":697,"k":1},{"x":375,"y":704,"k":1},{"x":395,"y":709,"k":1},{"x":449,"y":705,"k":1},{"x":482,"y":706,"k":1},{"x":506,"y":709,"k":1},{"x":566,"y":705,"k":1},{"x":626,"y":699,"k":1},{"x":465,"y":711,"k":0},{"x":433,"y":714,"k":0},{"x":606,"y":709,"k":1},{"x":527,"y":712,"k":1},{"x":416,"y":718,"k":1},{"x":546,"y":720,"k":1},{"x":586,"y":718,"k":1},{"x":625,"y":719,"k":1},
{"x":380,"y":724,"k":1},{"x":452,"y":726,"k":1},{"x":473,"y":728,"k":1},{"x":494,"y":728,"k":1},{"x":398,"y":727,"k":0},{"x":513,"y":727,"k":0},{"x":567,"y":727,"k":1},{"x":602,"y":726,"k":0},{"x":432,"y":732,"k":1},{"x":529,"y":734,"k":1},{"x":613,"y":739,"k":1},{"x":389,"y":743,"k":1},{"x":410,"y":740,"k":1},{"x":373,"y":739,"k":0},{"x":587,"y":740,"k":1},{"x":635,"y":740,"k":1},{"x":549,"y":741,"k":1},{"x":444,"y":745,"k":0},{"x":462,"y":746,"k":1},{"x":486,"y":746,"k":1},{"x":510,"y":744,"k":1},
{"x":426,"y":754,"k":1},{"x":568,"y":750,"k":1},{"x":530,"y":755,"k":1},{"x":602,"y":757,"k":1},{"x":623,"y":758,"k":1},{"x":584,"y":759,"k":0},{"x":373,"y":758,"k":1},{"x":405,"y":760,"k":1},{"x":387,"y":764,"k":0},{"x":452,"y":765,"k":1},{"x":496,"y":764,"k":1},{"x":473,"y":765,"k":1},{"x":515,"y":763,"k":0},{"x":550,"y":763,"k":1},{"x":434,"y":771,"k":0},{"x":571,"y":773,"k":1},{"x":396,"y":780,"k":1},{"x":418,"y":779,"k":1},{"x":592,"y":776,"k":1},{"x":612,"y":777,"k":1},{"x":533,"y":776,"k":1},
{"x":444,"y":787,"k":1},{"x":464,"y":785,"k":1},{"x":486,"y":783,"k":1},{"x":510,"y":782,"k":1},{"x":554,"y":786,"k":1},{"x":633,"y":779,"k":1},{"x":375,"y":779,"k":1},{"x":579,"y":789,"k":0},{"x":407,"y":794,"k":0},{"x":537,"y":793,"k":0},{"x":600,"y":797,"k":1},{"x":622,"y":796,"k":1},{"x":373,"y":796,"k":0},{"x":386,"y":800,"k":1},{"x":425,"y":800,"k":1},{"x":477,"y":803,"k":1},{"x":500,"y":801,"k":1},{"x":521,"y":801,"k":1},{"x":562,"y":803,"k":0},{"x":458,"y":803,"k":0},
{"x":545,"y":808,"k":1},{"x":581,"y":807,"k":1},{"x":443,"y":810,"k":1},{"x":405,"y":813,"k":1},{"x":613,"y":812,"k":0},{"x":632,"y":816,"k":1},{"x":372,"y":812,"k":0},{"x":510,"y":816,"k":0},{"x":462,"y":820,"k":1},{"x":528,"y":821,"k":1},{"x":563,"y":820,"k":1},{"x":597,"y":822,"k":1},{"x":388,"y":824,"k":1},{"x":492,"y":822,"k":1},{"x":425,"y":824,"k":1},{"x":580,"y":828,"k":0},{"x":616,"y":832,"k":1},{"x":445,"y":833,"k":1},{"x":407,"y":835,"k":1},{"x":477,"y":831,"k":0},{"x":547,"y":835,"k":1},{"x":511,"y":835,"k":1},{"x":633,"y":836,"k":0},{"x":373,"y":836,"k":0},
{"x":529,"y":841,"k":0},{"x":426,"y":844,"k":1},{"x":465,"y":845,"k":1},{"x":491,"y":843,"k":1},{"x":567,"y":843,"k":1},{"x":590,"y":843,"k":1},{"x":387,"y":847,"k":1},{"x":607,"y":848,"k":0},{"x":518,"y":856,"k":1},{"x":445,"y":855,"k":1},{"x":540,"y":856,"k":1},{"x":622,"y":856,"k":1},{"x":478,"y":857,"k":0},{"x":500,"y":858,"k":0},{"x":407,"y":859,"k":1},{"x":371,"y":856,"k":0},{"x":428,"y":862,"k":0},{"x":561,"y":864,"k":1},{"x":582,"y":863,"k":1},{"x":464,"y":868,"k":1},{"x":603,"y":867,"k":1},{"x":384,"y":870,"k":1},{"x":487,"y":872,"k":1},{"x":620,"y":875,"k":0},{"x":546,"y":875,"k":0},{"x":637,"y":872,"k":1},{"x":508,"y":875,"k":1},{"x":528,"y":876,"k":1},{"x":417,"y":877,"k":1},{"x":439,"y":876,"k":1},{"x":399,"y":881,"k":0},{"x":572,"y":883,"k":1},{"x":589,"y":881,"k":0},
{"x":649,"y":644,"k":1},{"x":670,"y":637,"k":1},{"x":687,"y":632,"k":0},{"x":707,"y":635,"k":1},{"x":727,"y":642,"k":1},{"x":752,"y":632,"k":1},{"x":772,"y":644,"k":1},{"x":789,"y":635,"k":1},{"x":812,"y":635,"k":1},{"x":829,"y":633,"k":0},{"x":846,"y":641,"k":1},{"x":865,"y":644,"k":0},{"x":884,"y":651,"k":1},
{"x":688,"y":649,"k":1},{"x":710,"y":656,"k":1},{"x":752,"y":649,"k":1},{"x":799,"y":649,"k":0},{"x":825,"y":651,"k":1},{"x":670,"y":656,"k":0},{"x":735,"y":658,"k":0},{"x":767,"y":662,"k":0},{"x":785,"y":661,"k":1},{"x":807,"y":666,"k":1},{"x":842,"y":663,"k":1},{"x":864,"y":663,"k":1},{"x":694,"y":665,"k":0},{"x":824,"y":670,"k":0},{"x":882,"y":670,"k":0},
{"x":655,"y":667,"k":1},{"x":679,"y":672,"k":1},{"x":723,"y":672,"k":1},{"x":751,"y":671,"k":1},{"x":772,"y":678,"k":1},{"x":855,"y":679,"k":0},{"x":703,"y":681,"k":1},{"x":642,"y":684,"k":1},{"x":792,"y":684,"k":1},{"x":815,"y":686,"k":1},{"x":835,"y":684,"k":1},{"x":871,"y":684,"k":1},{"x":663,"y":687,"k":1},{"x":737,"y":689,"k":1},
{"x":685,"y":693,"k":1},{"x":720,"y":696,"k":0},{"x":758,"y":693,"k":1},{"x":779,"y":701,"k":1},{"x":800,"y":699,"k":0},{"x":852,"y":697,"k":1},{"x":832,"y":702,"k":0},{"x":870,"y":702,"k":0},{"x":647,"y":704,"k":1},{"x":668,"y":706,"k":0},{"x":704,"y":703,"k":1},{"x":745,"y":711,"k":1},{"x":762,"y":712,"k":0},{"x":816,"y":710,"k":1},
{"x":724,"y":713,"k":1},{"x":685,"y":715,"k":1},{"x":796,"y":716,"k":1},{"x":843,"y":716,"k":1},{"x":864,"y":719,"k":1},{"x":643,"y":723,"k":0},{"x":662,"y":723,"k":1},{"x":707,"y":721,"k":0},{"x":776,"y":722,"k":1},{"x":736,"y":726,"k":0},{"x":755,"y":731,"k":1},{"x":809,"y":729,"k":0},{"x":827,"y":730,"k":1},
{"x":678,"y":733,"k":0},{"x":696,"y":735,"k":1},{"x":719,"y":734,"k":1},{"x":850,"y":736,"k":1},{"x":638,"y":740,"k":1},{"x":773,"y":739,"k":0},{"x":794,"y":738,"k":1},{"x":871,"y":741,"k":1},
{"x":658,"y":745,"k":1},{"x":739,"y":744,"k":1},{"x":813,"y":747,"k":1},{"x":679,"y":752,"k":1},{"x":706,"y":754,"k":1},{"x":835,"y":750,"k":1},{"x":759,"y":753,"k":1},{"x":781,"y":755,"k":1},{"x":725,"y":755,"k":0},{"x":855,"y":758,"k":1},{"x":645,"y":761,"k":1},{"x":800,"y":760,"k":0},
{"x":664,"y":763,"k":0},{"x":691,"y":765,"k":0},{"x":741,"y":762,"k":0},{"x":875,"y":762,"k":1},{"x":772,"y":769,"k":0},{"x":816,"y":769,"k":1},{"x":838,"y":772,"k":1},{"x":677,"y":776,"k":1},{"x":726,"y":774,"k":1},{"x":754,"y":775,"k":1},{"x":790,"y":775,"k":1},{"x":858,"y":779,"k":1},{"x":656,"y":780,"k":1},{"x":704,"y":780,"k":1},
{"x":737,"y":787,"k":0},{"x":771,"y":788,"k":1},{"x":688,"y":789,"k":0},{"x":808,"y":789,"k":1},{"x":826,"y":785,"k":0},{"x":878,"y":790,"k":1},{"x":644,"y":797,"k":1},{"x":669,"y":797,"k":1},{"x":721,"y":795,"k":1},{"x":790,"y":798,"k":1},{"x":841,"y":794,"k":1},{"x":860,"y":797,"k":0},{"x":753,"y":799,"k":1},{"x":701,"y":801,"k":1},
{"x":685,"y":808,"k":0},{"x":739,"y":808,"k":0},{"x":805,"y":807,"k":0},{"x":825,"y":806,"k":1},{"x":657,"y":811,"k":0},{"x":770,"y":810,"k":1},{"x":871,"y":811,"k":1},{"x":846,"y":815,"k":1},{"x":716,"y":813,"k":0},
{"x":674,"y":822,"k":1},{"x":697,"y":822,"k":1},{"x":731,"y":824,"k":1},{"x":752,"y":822,"k":1},{"x":792,"y":820,"k":1},{"x":815,"y":825,"k":1},{"x":650,"y":828,"k":1},{"x":833,"y":827,"k":0},{"x":860,"y":826,"k":0},{"x":713,"y":830,"k":0},{"x":774,"y":830,"k":0},
{"x":683,"y":836,"k":0},{"x":743,"y":837,"k":0},{"x":847,"y":838,"k":1},{"x":871,"y":840,"k":1},{"x":805,"y":839,"k":0},{"x":666,"y":843,"k":1},{"x":700,"y":844,"k":1},{"x":723,"y":845,"k":1},{"x":763,"y":844,"k":1},{"x":787,"y":842,"k":1},{"x":823,"y":844,"k":1},
{"x":645,"y":850,"k":1},{"x":682,"y":857,"k":1},{"x":743,"y":854,"k":1},{"x":861,"y":855,"k":0},{"x":778,"y":857,"k":0},{"x":799,"y":859,"k":1},{"x":842,"y":858,"k":1},{"x":661,"y":864,"k":1},{"x":702,"y":865,"k":1},{"x":725,"y":867,"k":1},{"x":763,"y":865,"k":1},{"x":820,"y":865,"k":1},{"x":877,"y":863,"k":1},
{"x":677,"y":873,"k":0},{"x":745,"y":872,"k":0},{"x":783,"y":874,"k":1},{"x":835,"y":875,"k":0},{"x":857,"y":873,"k":1},{"x":803,"y":878,"k":0},{"x":652,"y":884,"k":0},{"x":691,"y":885,"k":1},{"x":875,"y":882,"k":0}
]},
"layer":[
{"data":{"name":"frame"},"mark":{"type":"line","color":"black","strokeWidth":3,"strokeJoin":"miter"},"encoding":{"x":{"field":"x","type":"quantitative","scale":{"domain":[0,1000],"nice":false,"zero":false},"axis":null},"y":{"field":"y","type":"quantitative","scale":{"domain":[0,1000],"reverse":true,"nice":false,"zero":false},"axis":null},"order":{"field":"o"}}},
{"data":{"name":"p"},"mark":{"type":"point","shape":"circle","filled":true,"opacity":1,"stroke":"#3a2aa0","strokeWidth":0.6,"fill":{"gradient":"radial","x1":0.5,"y1":0.5,"r1":0,"x2":0.5,"y2":0.5,"r2":0.5,"stops":[{"offset":0,"color":"#3a0cf4"},{"offset":0.75,"color":"#3300e8"},{"offset":1,"color":"#2a00b4"}]}},"encoding":{"x":{"field":"x","type":"quantitative","scale":{"domain":[0,1000],"nice":false,"zero":false},"axis":null},"y":{"field":"y","type":"quantitative","scale":{"domain":[0,1000],"reverse":true,"nice":false,"zero":false},"axis":null},"size":{"field":"k","type":"nominal","scale":{"domain":[0,1],"range":[210,345]},"legend":null}}},
{"data":{"name":"bar"},"mark":{"type":"rect","fill":{"gradient":"linear","x1":0,"y1":0,"x2":1,"y2":0,"stops":[{"offset":0,"color":"#0000ff"},{"offset":0.05,"color":"#0000ff"},{"offset":0.285,"color":"#00ffff"},{"offset":0.52,"color":"#00ff00"},{"offset":0.755,"color":"#ffff00"},{"offset":1,"color":"#ff0000"}]}},"encoding":{"x":{"field":"from","type":"quantitative","scale":{"domain":[0,3],"range":[314,714],"nice":false,"zero":false},"axis":null},"x2":{"field":"to"},"y":{"value":60},"y2":{"value":100}}},
{"data":{"name":"ticks"},"transform":[{"filter":"datum.v==0"}],"mark":{"type":"text","align":"right","baseline":"alphabetic","font":"Open Sans","fontSize":40,"dx":-6,"color":"black"},"encoding":{"x":{"field":"v","type":"quantitative","scale":{"domain":[0,3],"range":[314,714],"nice":false,"zero":false},"axis":null},"y":{"value":95},"text":{"field":"t"}}},
{"data":{"name":"ticks"},"transform":[{"filter":"datum.v==3"}],"mark":{"type":"text","align":"left","baseline":"alphabetic","font":"Open Sans","fontSize":40,"dx":11,"color":"black"},"encoding":{"x":{"field":"v","type":"quantitative","scale":{"domain":[0,3],"range":[314,714],"nice":false,"zero":false},"axis":null},"y":{"value":95},"text":{"field":"t"}}},
{"data":{"values":[{"t":"Displacement Magnitude"}]},"mark":{"type":"text","align":"center","baseline":"alphabetic","font":"Open Sans","fontSize":49,"color":"black"},"encoding":{"x":{"value":517},"y":{"value":40},"text":{"field":"t"}}},
{"data":{"values":[{"t":"(a)"}]},"mark":{"type":"text","align":"center","baseline":"alphabetic","font":"Open Sans","fontSize":48,"color":"black"},"encoding":{"x":{"value":72},"y":{"value":90},"text":{"field":"t"}}},
{"data":{"values":[{"t":"t = 0"}]},"mark":{"type":"text","align":"center","baseline":"alphabetic","font":"Open Sans","fontSize":68,"color":"#000080"},"encoding":{"x":{"value":496},"y":{"value":968},"text":{"field":"t"}}}
]}
